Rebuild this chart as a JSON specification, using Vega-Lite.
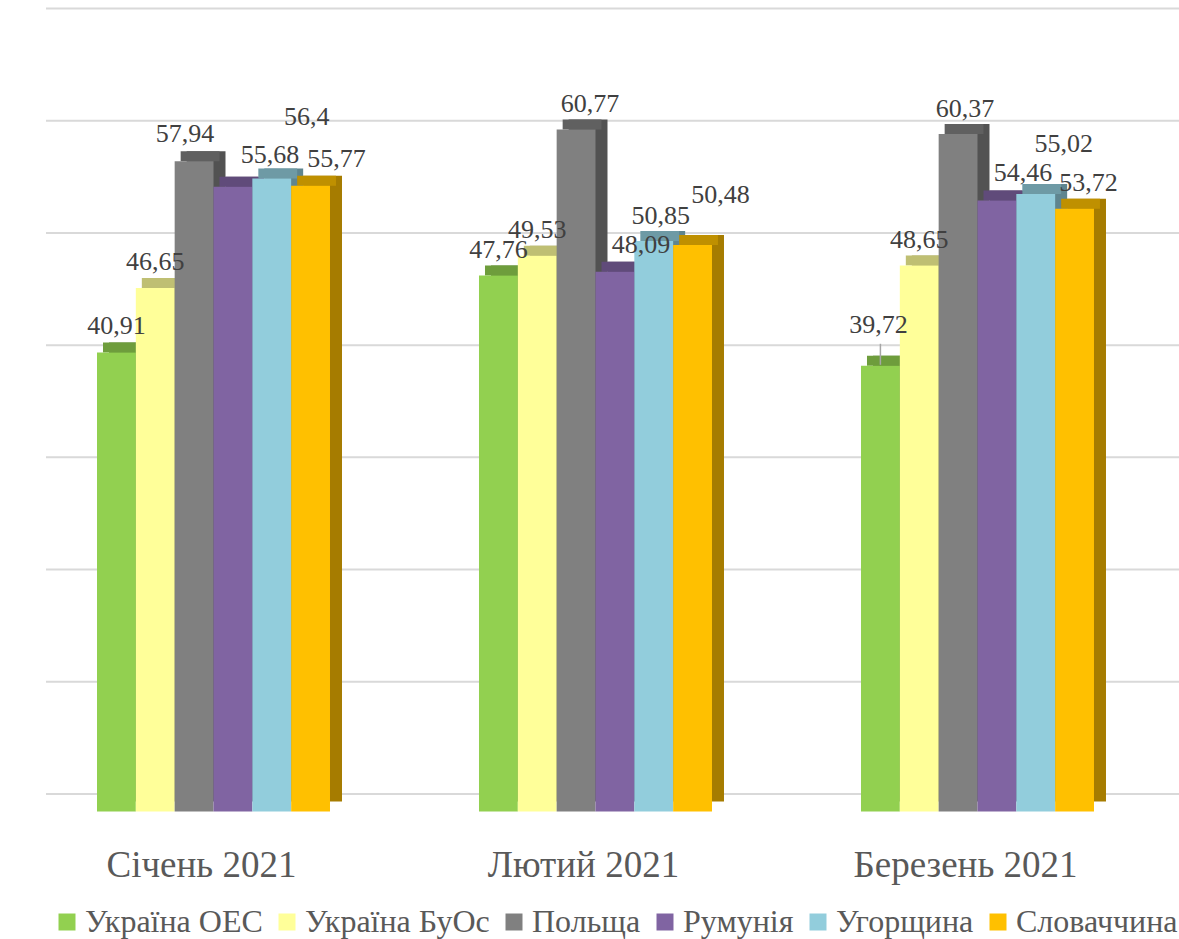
{
  "$schema": "https://vega.github.io/schema/vega-lite/v6.json",
  "width": 1133,
  "height": 785.5,
  "autosize": {"type": "none"},
  "padding": {"left": 46, "top": 26, "right": 0, "bottom": 127.5},
  "background": "white",
  "config": {
    "view": {"stroke": null},
    "font": "'Liberation Serif', 'Times New Roman', Times, serif",
    "text": {"font": "'Liberation Serif', 'Times New Roman', Times, serif"},
    "legend": {"labelFont": "'Liberation Serif', 'Times New Roman', Times, serif"},
    "locale": {"number": {"decimal": ",", "thousands": " ", "grouping": [3], "currency": ["", ""]}}
  },
  "datasets": {
    "rows": [
      {"month": "Січень 2021", "country": "Україна ОЕС", "value": 40.91},
      {"month": "Січень 2021", "country": "Україна БуОс", "value": 46.65},
      {"month": "Січень 2021", "country": "Польща", "value": 57.94},
      {"month": "Січень 2021", "country": "Румунія", "value": 55.68},
      {"month": "Січень 2021", "country": "Угорщина", "value": 56.4},
      {"month": "Січень 2021", "country": "Словаччина", "value": 55.77},
      {"month": "Лютий 2021", "country": "Україна ОЕС", "value": 47.76},
      {"month": "Лютий 2021", "country": "Україна БуОс", "value": 49.53},
      {"month": "Лютий 2021", "country": "Польща", "value": 60.77},
      {"month": "Лютий 2021", "country": "Румунія", "value": 48.09},
      {"month": "Лютий 2021", "country": "Угорщина", "value": 50.85},
      {"month": "Лютий 2021", "country": "Словаччина", "value": 50.48},
      {"month": "Березень 2021", "country": "Україна ОЕС", "value": 39.72},
      {"month": "Березень 2021", "country": "Україна БуОс", "value": 48.65},
      {"month": "Березень 2021", "country": "Польща", "value": 60.37},
      {"month": "Березень 2021", "country": "Румунія", "value": 54.46},
      {"month": "Березень 2021", "country": "Угорщина", "value": 55.02},
      {"month": "Березень 2021", "country": "Словаччина", "value": 53.72}
    ],
    "grid": [{"g": 0}, {"g": 10}, {"g": 20}, {"g": 30}, {"g": 40}, {"g": 50}, {"g": 60}, {"g": 70}]
  },
  "layer": [
    {
      "data": {"name": "grid"},
      "mark": {"type": "rule", "color": "#D9D9D9", "strokeWidth": 2, "yOffset": -17.5},
      "encoding": {
        "y": {"field": "g", "type": "quantitative", "scale": {"domain": [0, 70], "nice": false}, "axis": null}
      }
    },
    {
      "data": {"name": "rows"},
      "encoding": {
        "x": {
          "field": "month", "type": "nominal",
          "sort": ["Січень 2021", "Лютий 2021", "Березень 2021"],
          "scale": {"paddingInner": 0.39, "paddingOuter": 0.178, "align": 0.375},
          "axis": {"title": null, "domain": false, "ticks": false, "labelAngle": 0, "labelFontSize": 37, "labelFont": "'Liberation Serif', 'Times New Roman', Times, serif", "labelColor": "#595959", "labelBaseline": "alphabetic", "labelPadding": 65, "labelOffset": -12, "labelLimit": 500}
        },
        "xOffset": {"field": "country", "type": "nominal", "sort": ["Україна ОЕС", "Україна БуОс", "Польща", "Румунія", "Угорщина", "Словаччина"], "scale": {"domain": ["Україна ОЕС", "Україна БуОс", "Польща", "Румунія", "Угорщина", "Словаччина"]}},
        "y": {"field": "value", "type": "quantitative", "scale": {"domain": [0, 70], "nice": false}, "axis": null}
      },
      "layer": [
        {
          "mark": {"type": "bar", "yOffset": -10, "y2Offset": -10},
          "encoding": {
            "xOffset": {"field": "country", "type": "nominal", "scale": {"domain": ["Україна ОЕС", "Україна БуОс", "Польща", "Румунія", "Угорщина", "Словаччина"], "range": [12, 245]}},
            "color": {"field": "country", "type": "nominal", "legend": null,
              "scale": {"domain": ["Україна ОЕС", "Україна БуОс", "Польща", "Румунія", "Угорщина", "Словаччина"], "range": ["#5B8232", "#A6A663", "#525252", "#523F69", "#5F858F", "#A67C00"]}}
          }
        },
        {
          "mark": {"type": "bar", "yOffset": -10},
          "encoding": {
            "xOffset": {"field": "country", "type": "nominal", "scale": {"domain": ["Україна ОЕС", "Україна БуОс", "Польща", "Румунія", "Угорщина", "Словаччина"], "range": [6, 239]}},
            "y2": {"field": "value"},
            "color": {"field": "country", "type": "nominal", "legend": null,
              "scale": {"domain": ["Україна ОЕС", "Україна БуОс", "Польща", "Румунія", "Угорщина", "Словаччина"], "range": ["#6E9D3C", "#BFBF73", "#606060", "#604B7A", "#6E9AA5", "#BF9000"]}}
          }
        },
        {
          "mark": {"type": "bar"},
          "encoding": {
            "xOffset": {"field": "country", "type": "nominal", "scale": {"domain": ["Україна ОЕС", "Україна БуОс", "Польща", "Румунія", "Угорщина", "Словаччина"], "range": [0, 233]}},
            "color": {"field": "country", "type": "nominal",
              "scale": {"domain": ["Україна ОЕС", "Україна БуОс", "Польща", "Румунія", "Угорщина", "Словаччина"], "range": ["#92D050", "#FFFF99", "#808080", "#8064A2", "#92CDDC", "#FFC000"]},
              "legend": {
                "orient": "none", "legendX": 5, "legendY": 880, "direction": "horizontal", "columns": 6,
                "symbolType": "square", "symbolSize": 289, "symbolStrokeWidth": 0,
                "labelFontSize": 32, "labelFont": "'Liberation Serif', 'Times New Roman', Times, serif", "labelColor": "#595959",
                "labelOffset": 2, "columnPadding": 8, "labelLimit": 600, "title": null
              }}
          }
        },
        {
          "transform": [{"filter": "datum.month == 'Березень 2021' && datum.country == 'Україна ОЕС'"}],
          "mark": {"type": "rule", "color": "#A6A6A6", "strokeWidth": 1.5, "yOffset": -22, "y2Offset": -1},
          "encoding": {"y2": {"field": "value"}}
        },
        {
          "transform": [{"filter": "indexof(['Січень 2021|Польща','Січень 2021|Румунія','Січень 2021|Угорщина','Січень 2021|Словаччина','Лютий 2021|Польща','Лютий 2021|Румунія','Лютий 2021|Угорщина','Лютий 2021|Словаччина','Березень 2021|Україна ОЕС','Березень 2021|Польща','Березень 2021|Румунія','Березень 2021|Угорщина','Березень 2021|Словаччина'], datum.month + '|' + datum.country) < 0"}],
          "mark": {"type": "text", "fontSize": 26, "font": "'Liberation Serif', 'Times New Roman', Times, serif", "color": "#404040", "baseline": "middle", "align": "center", "dy": -26},
          "encoding": {"text": {"field": "value", "type": "quantitative", "format": ".4~r"}}
        },
        {
          "transform": [{"filter": "indexof(['Січень 2021|Словаччина','Лютий 2021|Румунія','Березень 2021|Румунія'], datum.month + '|' + datum.country) >= 0"}],
          "mark": {"type": "text", "fontSize": 26, "font": "'Liberation Serif', 'Times New Roman', Times, serif", "color": "#404040", "baseline": "middle", "align": "center", "dx": 26, "dy": -27},
          "encoding": {"text": {"field": "value", "type": "quantitative", "format": ".4~r"}}
        },
        {
          "transform": [{"filter": "indexof(['Лютий 2021|Словаччина','Березень 2021|Угорщина'], datum.month + '|' + datum.country) >= 0"}],
          "mark": {"type": "text", "fontSize": 26, "font": "'Liberation Serif', 'Times New Roman', Times, serif", "color": "#404040", "baseline": "middle", "align": "center", "dx": 28, "dy": -50},
          "encoding": {"text": {"field": "value", "type": "quantitative", "format": ".4~r"}}
        },
        {
          "transform": [{"filter": "indexof(['Лютий 2021|Польща','Березень 2021|Словаччина'], datum.month + '|' + datum.country) >= 0"}],
          "mark": {"type": "text", "fontSize": 26, "font": "'Liberation Serif', 'Times New Roman', Times, serif", "color": "#404040", "baseline": "middle", "align": "center", "dx": 14, "dy": -26},
          "encoding": {"text": {"field": "value", "type": "quantitative", "format": ".4~r"}}
        },
        {
          "transform": [{"filter": "indexof(['Лютий 2021|Угорщина','Березень 2021|Польща'], datum.month + '|' + datum.country) >= 0"}],
          "mark": {"type": "text", "fontSize": 26, "font": "'Liberation Serif', 'Times New Roman', Times, serif", "color": "#404040", "baseline": "middle", "align": "center", "dx": 7, "dy": -25},
          "encoding": {"text": {"field": "value", "type": "quantitative", "format": ".4~r"}}
        },
        {
          "transform": [{"filter": "datum.month == 'Січень 2021' && datum.country == 'Польща'"}],
          "mark": {"type": "text", "fontSize": 26, "font": "'Liberation Serif', 'Times New Roman', Times, serif", "color": "#404040", "baseline": "middle", "align": "center", "dx": -9, "dy": -27},
          "encoding": {"text": {"field": "value", "type": "quantitative", "format": ".4~r"}}
        },
        {
          "transform": [{"filter": "datum.month == 'Січень 2021' && datum.country == 'Румунія'"}],
          "mark": {"type": "text", "fontSize": 26, "font": "'Liberation Serif', 'Times New Roman', Times, serif", "color": "#404040", "baseline": "middle", "align": "center", "dx": 37, "dy": -32},
          "encoding": {"text": {"field": "value", "type": "quantitative", "format": ".4~r"}}
        },
        {
          "transform": [{"filter": "datum.month == 'Січень 2021' && datum.country == 'Угорщина'"}],
          "mark": {"type": "text", "fontSize": 26, "font": "'Liberation Serif', 'Times New Roman', Times, serif", "color": "#404040", "baseline": "middle", "align": "center", "dx": 35, "dy": -62},
          "encoding": {"text": {"field": "value", "type": "quantitative", "format": ".4~r"}}
        },
        {
          "transform": [{"filter": "datum.month == 'Березень 2021' && datum.country == 'Україна ОЕС'"}],
          "mark": {"type": "text", "fontSize": 26, "font": "'Liberation Serif', 'Times New Roman', Times, serif", "color": "#404040", "baseline": "middle", "align": "center", "dx": -2, "dy": -41},
          "encoding": {"text": {"field": "value", "type": "quantitative", "format": ".4~r"}}
        }
      ],
      "resolve": {"scale": {"color": "independent", "xOffset": "independent"}}
    }
  ]
}
